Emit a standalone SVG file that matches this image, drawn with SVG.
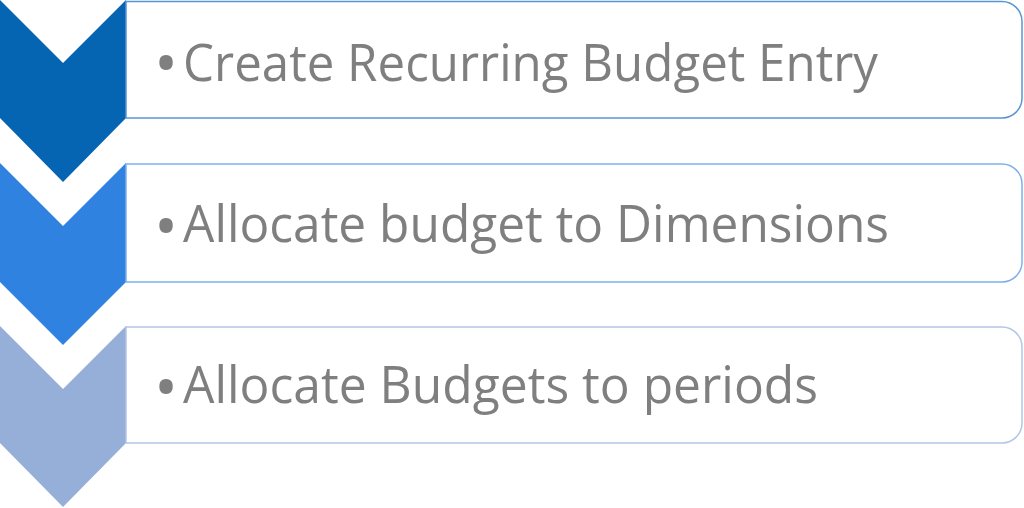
<svg xmlns="http://www.w3.org/2000/svg" width="1024" height="508" viewBox="0 0 1024 508">
<style>
.lbl{font-family:"Open Sans","Noto Sans","DejaVu Sans",sans-serif;font-size:52px;fill:#7f7f7f}
.bul{font-family:"Open Sans","Noto Sans","DejaVu Sans",sans-serif;font-size:64px;fill:#7f7f7f}
.box{fill:#ffffff;stroke-width:1.5}
</style>
<rect width="1024" height="508" fill="#ffffff"/>
<g id="step1">
<polygon points="0,0 63,63 126,0 126,118 63,182 0,118" fill="#0565B3"/>
<path class="box" stroke="#5a95d3" d="M126,1.5 H1002 A20,20 0 0 1 1022,21.5 V98 A20,20 0 0 1 1002,118 H126 Z"/>
<text class="bul" x="154" y="86">•</text>
<text class="lbl" x="183" y="81" textLength="695" lengthAdjust="spacingAndGlyphs">Create Recurring Budget Entry</text>
</g>
<g id="step2">
<polygon points="0,163 63,226 126,163 126,282 63,345 0,282" fill="#2F82E0"/>
<path class="box" stroke="#7db0ec" d="M126,164 H1002 A20,20 0 0 1 1022,184 V262 A20,20 0 0 1 1002,282 H126 Z"/>
<text class="bul" x="154" y="249">•</text>
<text class="lbl" x="183" y="242" textLength="706" lengthAdjust="spacingAndGlyphs">Allocate budget to Dimensions</text>
</g>
<g id="step3">
<polygon points="0,326 63,389 126,326 126,443 63,507 0,443" fill="#96AFD9"/>
<path class="box" stroke="#b3c5e6" d="M126,327 H1002 A20,20 0 0 1 1022,347 V423 A20,20 0 0 1 1002,443 H126 Z"/>
<text class="bul" x="154" y="410">•</text>
<text class="lbl" x="183" y="403" textLength="635" lengthAdjust="spacingAndGlyphs">Allocate Budgets to periods</text>
</g>
<g id="connectors"></g>
</svg>
